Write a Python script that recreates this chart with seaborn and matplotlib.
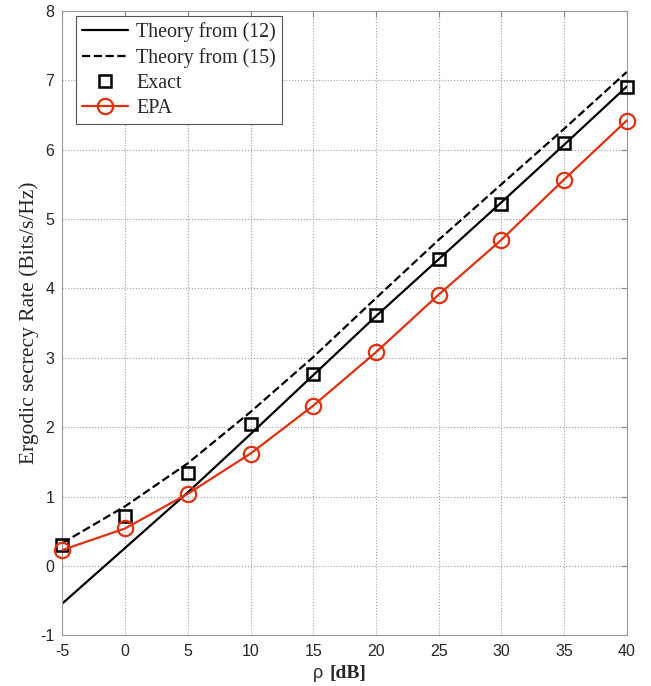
import numpy as np
import pandas as pd
import seaborn as sns
import matplotlib.pyplot as plt

# values
rho_db = [-5, 0, 5, 10, 15, 20, 25, 30, 35, 40]
theory_12 = [-0.54, 0.26, 1.06, 1.90, 2.75, 3.60, 4.42, 5.24, 6.07, 6.91]
theory_15 = [0.33, 0.86, 1.48, 2.22, 3.01, 3.86, 4.70, 5.50, 6.30, 7.12]
exact = [0.30, 0.72, 1.34, 2.05, 2.77, 3.61, 4.42, 5.22, 6.09, 6.91]
epa = [0.23, 0.54, 1.04, 1.62, 2.31, 3.08, 3.91, 4.70, 5.57, 6.42]

x_ticks = [-5, 0, 5, 10, 15, 20, 25, 30, 35, 40]
y_ticks = [-1, 0, 1, 2, 3, 4, 5, 6, 7, 8]

df = pd.DataFrame({'rho': rho_db, 'th12': theory_12, 'th15': theory_15,
                   'exact': exact, 'epa': epa})

sns.set_style("white")
plt.rcParams['font.family'] = ['Liberation Sans', 'DejaVu Sans']
plt.rcParams['axes.unicode_minus'] = False

red = '#e0300f'
fig = plt.figure(figsize=(6.51, 6.86), dpi=100)
ax = fig.add_axes([0.096, 0.074, 0.8667, 0.910])

sns.lineplot(data=df, x='rho', y='th12', ax=ax, color='black', lw=1.6,
             label='Theory from (12)')
sns.lineplot(data=df, x='rho', y='th15', ax=ax, color='black', lw=1.6,
             linestyle='--', label='Theory from (15)')
sns.lineplot(data=df, x='rho', y='exact', ax=ax, color='black', linestyle='none',
             marker='s', markersize=8, markerfacecolor='none',
             markeredgecolor='black', markeredgewidth=1.8, label='Exact',
             clip_on=False, zorder=5)
sns.lineplot(data=df, x='rho', y='epa', ax=ax, color=red, lw=1.6,
             marker='o', markersize=11, markerfacecolor='none',
             markeredgecolor=red, markeredgewidth=1.6, label='EPA',
             clip_on=False, zorder=5)

ax.set_xlim(-5, 40)
ax.set_ylim(-1, 8)
ax.set_xticks(x_ticks)
ax.set_yticks(y_ticks)
ax.grid(True, linestyle=':', color='#a0a0a0', lw=0.8)
ax.tick_params(direction='in', top=True, right=True, length=4,
               color='#888888', labelsize=11.5)
ax.tick_params(axis='x', pad=6)
ax.tick_params(axis='y', pad=6)
for s in ax.spines.values():
    s.set_color('#999999')
    s.set_linewidth(0.8)

ax.set_xlabel('')
ax.set_ylabel('Ergodic secrecy Rate (Bits/s/Hz)', family='Liberation Serif',
              fontsize=15.5, labelpad=1)
fig.text(0.497, 0.012, 'ρ', ha='right', va='baseline', fontsize=13,
         family='Liberation Sans')
fig.text(0.506, 0.012, '[dB]', ha='left', va='baseline', fontsize=14,
         fontweight='bold', family='Liberation Serif')

leg = ax.legend(loc='upper left', prop={'family': 'Liberation Serif', 'size': 14.4},
                fancybox=False, framealpha=1, edgecolor='#555555',
                handlelength=2.3, labelspacing=0.3, borderpad=0.3,
                borderaxespad=0.25, handletextpad=0.4)
leg.get_frame().set_linewidth(0.8)
leg.set_bbox_to_anchor((0.015, 1.0), transform=ax.transAxes)

fig.savefig('out.png', dpi=100)
